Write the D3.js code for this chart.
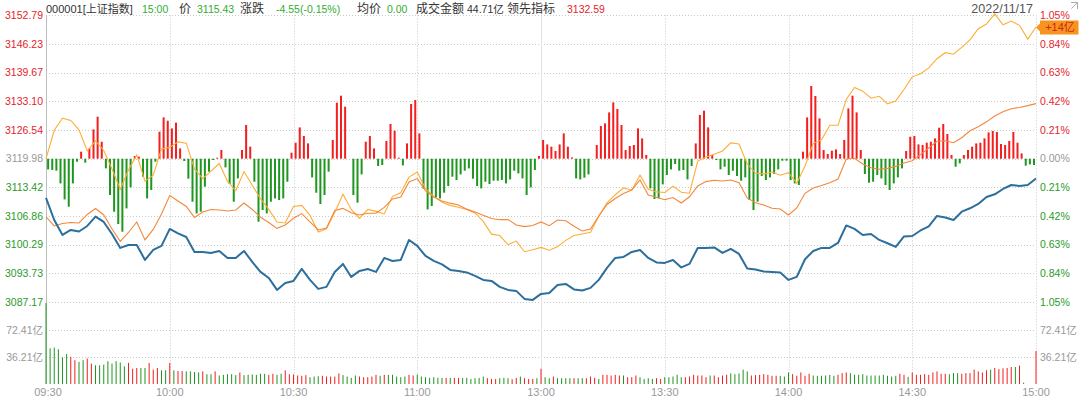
<!DOCTYPE html>
<html>
<head>
<meta charset="utf-8">
<script src="https://cdn.jsdelivr.net/npm/d3@7"></script>
<style>
  body { margin: 0; background: #fff; }
  svg { display: block; font-family: "Liberation Sans", "Noto Sans CJK SC", sans-serif; }
</style>
</head>
<body>
<script>
// ---- data ----
const preClose = 3119.98;

// 2-minute samples, 09:30 .. 11:30 | 13:00 .. 15:00 (121 points)
const price = [
  3110.99, 3105.95, 3102.52, 3103.67, 3103.32, 3104.58, 3106.71, 3105.50, 3102.75, 3099.55,
  3100.23, 3100.23, 3096.80, 3099.09, 3100.01, 3103.90, 3102.87, 3102.06, 3098.63, 3098.63,
  3098.40, 3098.86, 3097.26, 3097.26, 3098.86, 3096.34, 3094.06, 3092.68, 3089.94, 3091.54,
  3092.00, 3094.74, 3092.23, 3090.17, 3090.63, 3094.06, 3095.89, 3092.91, 3094.29, 3094.74,
  3094.06, 3097.26, 3096.57, 3096.80, 3101.38, 3100.01, 3097.72, 3096.57, 3095.77, 3094.51,
  3094.29, 3093.94, 3093.14, 3092.23, 3092.00, 3090.63, 3089.94, 3089.71, 3087.88, 3087.65,
  3089.02, 3089.25, 3091.08, 3091.31, 3090.05, 3089.82, 3090.40, 3092.23, 3094.97, 3097.26,
  3097.49, 3098.63, 3099.09, 3097.26, 3096.23, 3096.12, 3096.80, 3095.09, 3095.89, 3099.55,
  3099.55, 3099.66, 3098.40, 3099.32, 3098.18, 3094.86, 3094.63, 3094.17, 3094.06, 3093.90,
  3092.23, 3092.91, 3096.96, 3098.86, 3099.55, 3099.55, 3100.69, 3104.70, 3103.90, 3102.52,
  3102.75, 3101.38, 3100.62, 3099.78, 3102.18, 3102.29, 3103.55, 3104.47, 3106.87, 3106.53,
  3105.95, 3107.85, 3108.63, 3109.62, 3111.22, 3111.83, 3113.05, 3113.96, 3113.73, 3113.96,
  3115.43
];

// 领先指标, same sampling
const leading = [
  3106.64, 3104.58, 3105.15, 3105.38, 3105.27, 3107.21, 3108.59, 3107.10, 3103.90, 3101.04,
  3103.09, 3105.50, 3101.38, 3103.78, 3107.33, 3111.56, 3110.30, 3109.04, 3106.53, 3107.78,
  3108.36, 3108.24, 3108.01, 3108.24, 3109.84, 3108.36, 3106.57, 3105.36, 3104.03, 3104.81,
  3106.34, 3107.40, 3105.50, 3103.67, 3104.12, 3108.11, 3108.61, 3107.62, 3107.10, 3107.49,
  3107.49, 3108.84, 3110.76, 3111.22, 3114.65, 3115.43, 3112.68, 3111.22, 3110.30, 3109.80,
  3109.39, 3108.43, 3107.78, 3107.03, 3106.30, 3106.02, 3106.07, 3104.81, 3104.42, 3104.70,
  3105.50, 3104.65, 3105.95, 3105.79, 3104.51, 3103.44, 3103.90, 3106.87, 3109.50, 3110.87,
  3111.99, 3112.82, 3115.11, 3111.67, 3111.15, 3110.60, 3111.10, 3109.84, 3111.26, 3113.73,
  3114.74, 3115.04, 3114.88, 3115.11, 3114.47, 3110.99, 3109.91, 3109.39, 3108.63, 3108.47,
  3107.10, 3108.70, 3112.06, 3113.28, 3113.85, 3114.47, 3115.34, 3119.91, 3120.09, 3118.77,
  3117.92, 3117.55, 3117.76, 3118.22, 3119.00, 3119.50, 3120.90, 3122.43, 3123.98, 3124.10,
  3123.64, 3124.78, 3126.36, 3127.32, 3128.42, 3129.77, 3130.71, 3131.40, 3131.72, 3132.13,
  3132.59
];

// 资金流向 (亿), same sampling
const flow = [
  0, 3.02, 4.31, 4.07, 3.07, 0.82, 1.90, 0.88, -1.10, -3.25,
  -1.21, 0.40, -2.39, -1.75, 1.04, 1.20, 1.79, 1.65, -1.10, -2.12,
  -1.32, -0.51, -2.39, -3.41, -1.37, -2.82, -4.26, -5.39, -6.74, -6.83,
  -5.07, -4.96, -6.03, -7.80, -7.46, -5.71, -3.78, -5.39, -6.35, -5.39,
  -5.60, -5.87, -4.00, -3.62, -1.96, -1.42, -3.19, -4.00, -4.64, -4.96,
  -5.17, -5.39, -5.76, -6.67, -8.02, -8.17, -9.14, -8.76, -9.89, -9.67,
  -9.43, -9.73, -9.35, -8.68, -8.17, -8.00, -7.82, -6.14, -4.69, -3.83,
  -3.10, -3.35, -1.75, -3.25, -3.53, -3.59, -2.92, -3.57, -3.67, -0.25,
  0.18, 0.47, 0.82, 1.68, 1.57, -0.57, -1.53, -1.64, -1.42, -1.75,
  -1.48, -2.60, -0.78, 1.63, 2.00, 3.56, 3.55, 6.29, 7.57, 7.18,
  6.43, 6.64, 5.83, 6.14, 7.36, 8.70, 9.04, 9.65, 10.63, 11.27,
  11.11, 11.83, 12.63, 13.82, 14.32, 15.39, 14.24, 14.63, 14.18, 12.71,
  14.00
];

// per-minute red/green strength bars (241 minutes)
const strength = [
  0, -10.7, -11.3, -12, -24.7, -40.7, -48, -24.7, -3, 7,
  -4, 10.3, 29.3, 42, 17, -9.7, -36.3, -53, -65.3, -73,
  -49.7, -28.7, 2.7, 2, -18, -39.7, -31.3, -3, 27, 41.3,
  38, 30.3, 36, 10.3, -2.3, -20, -43, -54.7, -53, -28,
  -13, -1.3, 1, 8.7, -8.7, -25.3, -43, -19.7, 8.7, 33.7,
  12, -23, -63, -51.3, -54.7, -43, -39.7, -41.3, -39.7, -23,
  6, 16, 31.3, 22.7, 15.3, -18.7, -34, -45.3, -36.3, -13,
  18.7, 56, 63, 52, 0, -36.3, -44, -15.7, 17, 22.7,
  10.3, -7.3, -6.3, 17.7, 34.7, 28, 1, -6.7, 15.3, 54.7,
  58.7, 25.3, -30, -50.7, -47.3, -38.7, -39.7, -34, -27.3, -18,
  -21.3, -15.7, -12, -9.7, -20, -27.3, -29.7, -23, -25.3, -22,
  -22, -21.3, -24.7, -20.7, -12, -14.7, -19.7, -36.3, -28.7, -11.3,
  2.7, 18.7, 14.3, 12, 7.7, 14.3, 25.3, 12, 1.3, -19.7,
  -20.7, -19, -15.7, 0, 13.7, 32.7, 35.3, 46.3, 56.3, 49.7,
  33.7, 8.7, 12.7, 13.7, 30.3, 20.3, 3.7, -29.7, -40.3, -39.7,
  -25.7, -16.3, -10.7, -5.3, -12, -11.3, -20.7, -7.3, 15.3, 43.7,
  48, 31.3, 3.7, -1.3, -10.7, -8, -16.3, -12, -17.3, -22,
  -18.7, -41.3, -51.3, -43, -17.3, -21.3, -18.7, -15.3, -10.7, -2,
  -2, -21.3, -24.7, -26.3, 7, 41.3, 72.7, 62.7, 40.3, 8.7,
  4.7, 8, 9.3, 4.7, 18.7, 50.3, 63, 46.3, 8.7, -15.3,
  -24, -23, -16.3, -19.7, -26.3, -31.3, -24.7, -18.7, -9.7, 7.7,
  22, 22.7, 14.3, 13.7, 16, 17, 20.3, 31, 34.7, 24.7,
  3.7, -8, -4.7, 3.7, 8.7, 12, 15.3, 16, 20.3, 26.3,
  27.7, 26.7, 14.7, 13.7, 17.7, 26.7, 16, 5.3, -7, -5.7,
  -6.3
];

// per-minute turnover (亿)
const volume = [
  108.62, 47.9, 48.9, 46.6, 35.6, 40.2, 36.5, 32.0, 29.7, 32.0,
  34.2, 27.4, 25.1, 25.1, 26.0, 30.6, 27.4, 30.6, 28.8, 23.7,
  28.3, 20.5, 21.5, 21.5, 21.5, 28.3, 19.2, 21.5, 18.3, 18.3,
  28.3, 18.3, 17.4, 17.4, 16.9, 16.9, 16.0, 15.5, 16.9, 13.2,
  13.2, 16.9, 11.4, 12.3, 13.2, 13.2, 11.9, 15.5, 11.9, 12.3,
  12.8, 12.3, 13.7, 13.7, 12.3, 13.7, 12.3, 13.7, 18.3, 13.2,
  12.8, 11.4, 11.0, 11.9, 9.1, 10.0, 10.5, 11.0, 10.0, 10.0,
  10.0, 14.2, 11.9, 10.0, 8.2, 11.4, 10.0, 9.1, 9.1, 10.0,
  12.3, 11.0, 12.3, 12.3, 12.3, 10.0, 9.1, 10.0, 12.3, 11.4,
  12.8, 10.0, 9.1, 8.2, 9.1, 8.2, 8.2, 8.2, 8.2, 8.2,
  8.2, 8.2, 8.2, 6.8, 7.8, 8.2, 10.0, 7.8, 6.8, 6.8,
  7.8, 8.2, 7.8, 6.4, 8.2, 10.0, 7.8, 6.8, 6.8, 7.8,
  20.5, 9.1, 7.8, 10.0, 7.8, 7.8, 7.8, 7.8, 7.8, 7.8,
  7.8, 7.8, 10.0, 8.2, 6.8, 12.3, 12.3, 11.4, 12.3, 11.4,
  11.4, 9.1, 9.1, 11.4, 9.1, 6.8, 7.8, 6.8, 7.8, 6.8,
  9.1, 9.1, 10.0, 12.3, 9.1, 9.1, 10.0, 12.3, 11.4, 11.4,
  9.1, 11.4, 11.4, 9.1, 11.4, 12.3, 14.2, 13.2, 14.2, 19.2,
  16.9, 11.4, 11.9, 12.3, 13.2, 12.3, 11.0, 11.0, 11.0, 10.0,
  15.5, 13.2, 11.0, 15.5, 11.0, 13.7, 11.4, 11.0, 11.0, 11.4,
  12.3, 11.0, 12.3, 14.6, 15.5, 14.6, 12.3, 12.3, 13.2, 11.4,
  11.4, 11.4, 11.4, 12.3, 11.0, 10.0, 11.0, 13.7, 12.3, 9.6,
  15.5, 12.3, 12.3, 13.2, 12.3, 15.5, 16.9, 13.7, 13.7, 13.2,
  14.6, 14.6, 13.7, 14.6, 14.6, 19.2, 16.9, 15.5, 18.3, 19.2,
  21.5, 20.1, 21.0, 21.5, 22.8, 22.8, 24.7, 1.8, 0, 0,
  44.3
];

// r = up minute, g = down minute
const volDir = (
  'ggggggrrgg' + 'rrgggggggg' + 'rrrggrrrgg' + 'rgrrggggrg' + 'grgggggrgg' +
  'ggggrrggrr' + 'rrrrgggrrr' + 'rrggggrrrr' + 'rgrgggggrr' + 'gggggggrgr' +
  'rggggggrrr' + 'gggrrgrrrg' + 'rggrggggrg' + 'grrrgrrrrr' + 'grrrggggrr' +
  'gggggrrrrr' + 'rgrrrrgggg' + 'grrrrrrrgg' + 'grrrrrgggg' + 'ggrrrggggg' +
  'gggggggrrg' + 'rrrrrrrrrg' + 'ggrrrrrrrg' + 'rrrrrgrggg' + 'r'
).split('');

const priceTicks = ['3152.79','3146.23','3139.67','3133.10','3126.54','3119.98',
                    '3113.42','3106.86','3100.29','3093.73','3087.17'];
const pctTicks = ['1.05%','0.84%','0.63%','0.42%','0.21%','0.00%',
                  '0.21%','0.42%','0.63%','0.84%','1.05%'];
const volTicks = [72.41, 36.21];
const timeTicks = [0, 30, 60, 90, 120, 150, 180, 210, 240];
const timeLabels = ['09:30','10:00','10:30','11:00','13:00','13:30','14:00','14:30','15:00'];

const headerTexts = ['000001[上证指数]', '15:00', '价', '3115.43', '涨跌', '-4.55(-0.15%)',
                     '均价', '0.00', '成交金额', '44.71亿', '领先指标', '3132.59'];
const tradeDate = '2022/11/17';
const flowTag = '+14亿';

// ---- colours / layout ----
const RED = '#e4252b', GREEN = '#2a9a2a', GRAY = '#999';
const headerX = [46, 142, 179, 197, 240, 276, 357, 387, 416, 467, 507, 567];
const headerFill = ['#333', '#2fae2f', '#333', '#2fae2f', '#333', '#2fae2f',
                    '#333', '#2fae2f', '#333', '#333', '#333', RED];
const headerSize = [11, 10.5, 12, 10.5, 12, 10.5, 12, 10.5, 12, 10.5, 12, 10.5];

// ---- drawing ----
const svg = d3.select('body').append('svg')
  .attr('width', 1080)
  .attr('height', 398);

const x = d3.scaleLinear().domain([0, 240]).range([46, 1036]);
const y = d3.scaleLinear().domain([3087.17, 3152.79]).range([302, 15.4]);
const yBar = d3.scaleLinear().domain([-143.3, 143.3]).range([302, 15.4]);
const yFlow = d3.scaleLinear().domain([0, 14]).range([y(preClose), 27]);
const yVol = d3.scaleLinear().domain([0, 108.62]).range([384, 303]);

// grid
const grid = svg.append('g').attr('stroke', '#c9c9c9').attr('stroke-width', 1);
grid.selectAll('.hp').data(priceTicks).enter().append('line')
  .attr('x1', x(0)).attr('x2', x(240))
  .attr('y1', d => Math.round(y(+d)) + 0.5).attr('y2', d => Math.round(y(+d)) + 0.5)
  .attr('stroke-dasharray', '1,2');
grid.selectAll('.hv').data(volTicks).enter().append('line')
  .attr('x1', x(0)).attr('x2', x(240))
  .attr('y1', d => Math.round(yVol(d)) + 0.5).attr('y2', d => Math.round(yVol(d)) + 0.5)
  .attr('stroke-dasharray', '1,2');
grid.selectAll('.vt').data(timeTicks.filter(t => t > 0)).enter().append('line')
  .attr('x1', d => Math.round(x(d)) + 0.5).attr('x2', d => Math.round(x(d)) + 0.5)
  .attr('y1', y(3152.79)).attr('y2', yVol(0))
  .attr('stroke', d => d === 120 ? '#e2e2e2' : '#c9c9c9')
  .attr('stroke-dasharray', d => d === 120 ? null : '1,2');
grid.append('line')
  .attr('x1', x(0) + 0.5).attr('x2', x(0) + 0.5)
  .attr('y1', y(3152.79)).attr('y2', yVol(0))
  .attr('stroke', '#bdbdbd');

// red / green strength bars
svg.append('g').selectAll('rect')
  .data(strength.map((v, i) => ({ v, i })).filter(d => d.v !== 0))
  .enter().append('rect')
  .attr('x', d => x(d.i) - 3)
  .attr('width', 2)
  .attr('y', d => yBar(Math.max(d.v, 0)))
  .attr('height', d => Math.abs(yBar(d.v) - yBar(0)))
  .attr('fill', d => d.v > 0 ? '#f41e1e' : '#1f961f');

// volume bars
svg.append('g').selectAll('rect')
  .data(volume.map((v, i) => ({ v, i })).filter(d => d.v > 0))
  .enter().append('rect')
  .attr('x', d => x(d.i) - 0.5)
  .attr('width', 1)
  .attr('y', d => yVol(d.v))
  .attr('height', d => yVol(0) - yVol(d.v))
  .attr('fill', d => volDir[d.i] === 'r' ? '#f41e1e' : '#1f961f');

// lines
const lineOf = (scale) => d3.line().x((d, i) => x(i * 2)).y(d => scale(d));

svg.append('path').datum(flow)
  .attr('d', lineOf(yFlow))
  .attr('fill', 'none').attr('stroke', '#fdae35').attr('stroke-width', 1.1);

svg.append('path').datum(leading)
  .attr('d', lineOf(y))
  .attr('fill', 'none').attr('stroke', '#f3873a').attr('stroke-width', 1.1);

svg.append('path').datum(price)
  .attr('d', lineOf(y))
  .attr('fill', 'none').attr('stroke', '#2c6f9d').attr('stroke-width', 2)
  .attr('stroke-linejoin', 'round');

// axis labels
const tickColor = v => v > preClose ? RED : (v < preClose ? GREEN : GRAY);

svg.append('g').selectAll('text').data(priceTicks).enter().append('text')
  .attr('x', 43).attr('y', d => y(+d)).attr('dy', '0.35em')
  .attr('text-anchor', 'end').attr('font-size', 10.5)
  .attr('fill', d => tickColor(+d))
  .text(d => d);

svg.append('g').selectAll('text').data(pctTicks).enter().append('text')
  .attr('x', 1040).attr('y', (d, i) => y(+priceTicks[i])).attr('dy', '0.35em')
  .attr('font-size', 10.5)
  .attr('fill', (d, i) => tickColor(+priceTicks[i]))
  .text(d => d);

svg.append('g').selectAll('text').data(volTicks).enter().append('text')
  .attr('x', 43).attr('y', d => yVol(d)).attr('dy', '0.35em')
  .attr('text-anchor', 'end').attr('font-size', 10.5).attr('fill', GRAY)
  .text(d => d.toFixed(2) + '亿');

svg.append('g').selectAll('text').data(volTicks).enter().append('text')
  .attr('x', 1040).attr('y', d => yVol(d)).attr('dy', '0.35em')
  .attr('font-size', 10.5).attr('fill', GRAY)
  .text(d => d.toFixed(2) + '亿');

svg.append('g').selectAll('text').data(timeTicks).enter().append('text')
  .attr('x', d => x(d) + (d === 0 ? 2 : 0)).attr('y', 396)
  .attr('text-anchor', 'middle').attr('font-size', 11).attr('fill', GRAY)
  .text((d, i) => timeLabels[i]);

// header
svg.append('g').selectAll('text').data(headerTexts).enter().append('text')
  .attr('x', (d, i) => headerX[i]).attr('y', 13)
  .attr('font-size', (d, i) => headerSize[i])
  .attr('fill', (d, i) => headerFill[i])
  .text(d => d);

svg.append('text')
  .attr('x', 1033).attr('y', 13).attr('text-anchor', 'end')
  .attr('font-size', 12.5).attr('fill', '#555')
  .text(tradeDate);

// corner icon
svg.append('path')
  .attr('d', 'M1071,2.5 h6.5 v6.5 M1077.5,2.5 l-6,6')
  .attr('fill', 'none').attr('stroke', '#aaa').attr('stroke-width', 1);

// flow tag
const tagY = yFlow(flow[flow.length - 1]) + 0.5;
const tag = svg.append('g');
tag.append('path')
  .attr('d', `M${x(240)},${tagY} L${x(240) + 4},${tagY - 4} V${tagY - 7} H1078.5 V${tagY + 7} H${x(240) + 4} V${tagY + 4} Z`)
  .attr('fill', '#f8931d');
tag.append('text')
  .attr('x', 1060).attr('y', tagY).attr('dy', '0.36em')
  .attr('text-anchor', 'middle').attr('font-size', 11).attr('fill', '#c8281e')
  .text(flowTag);
</script>
</body>
</html>
